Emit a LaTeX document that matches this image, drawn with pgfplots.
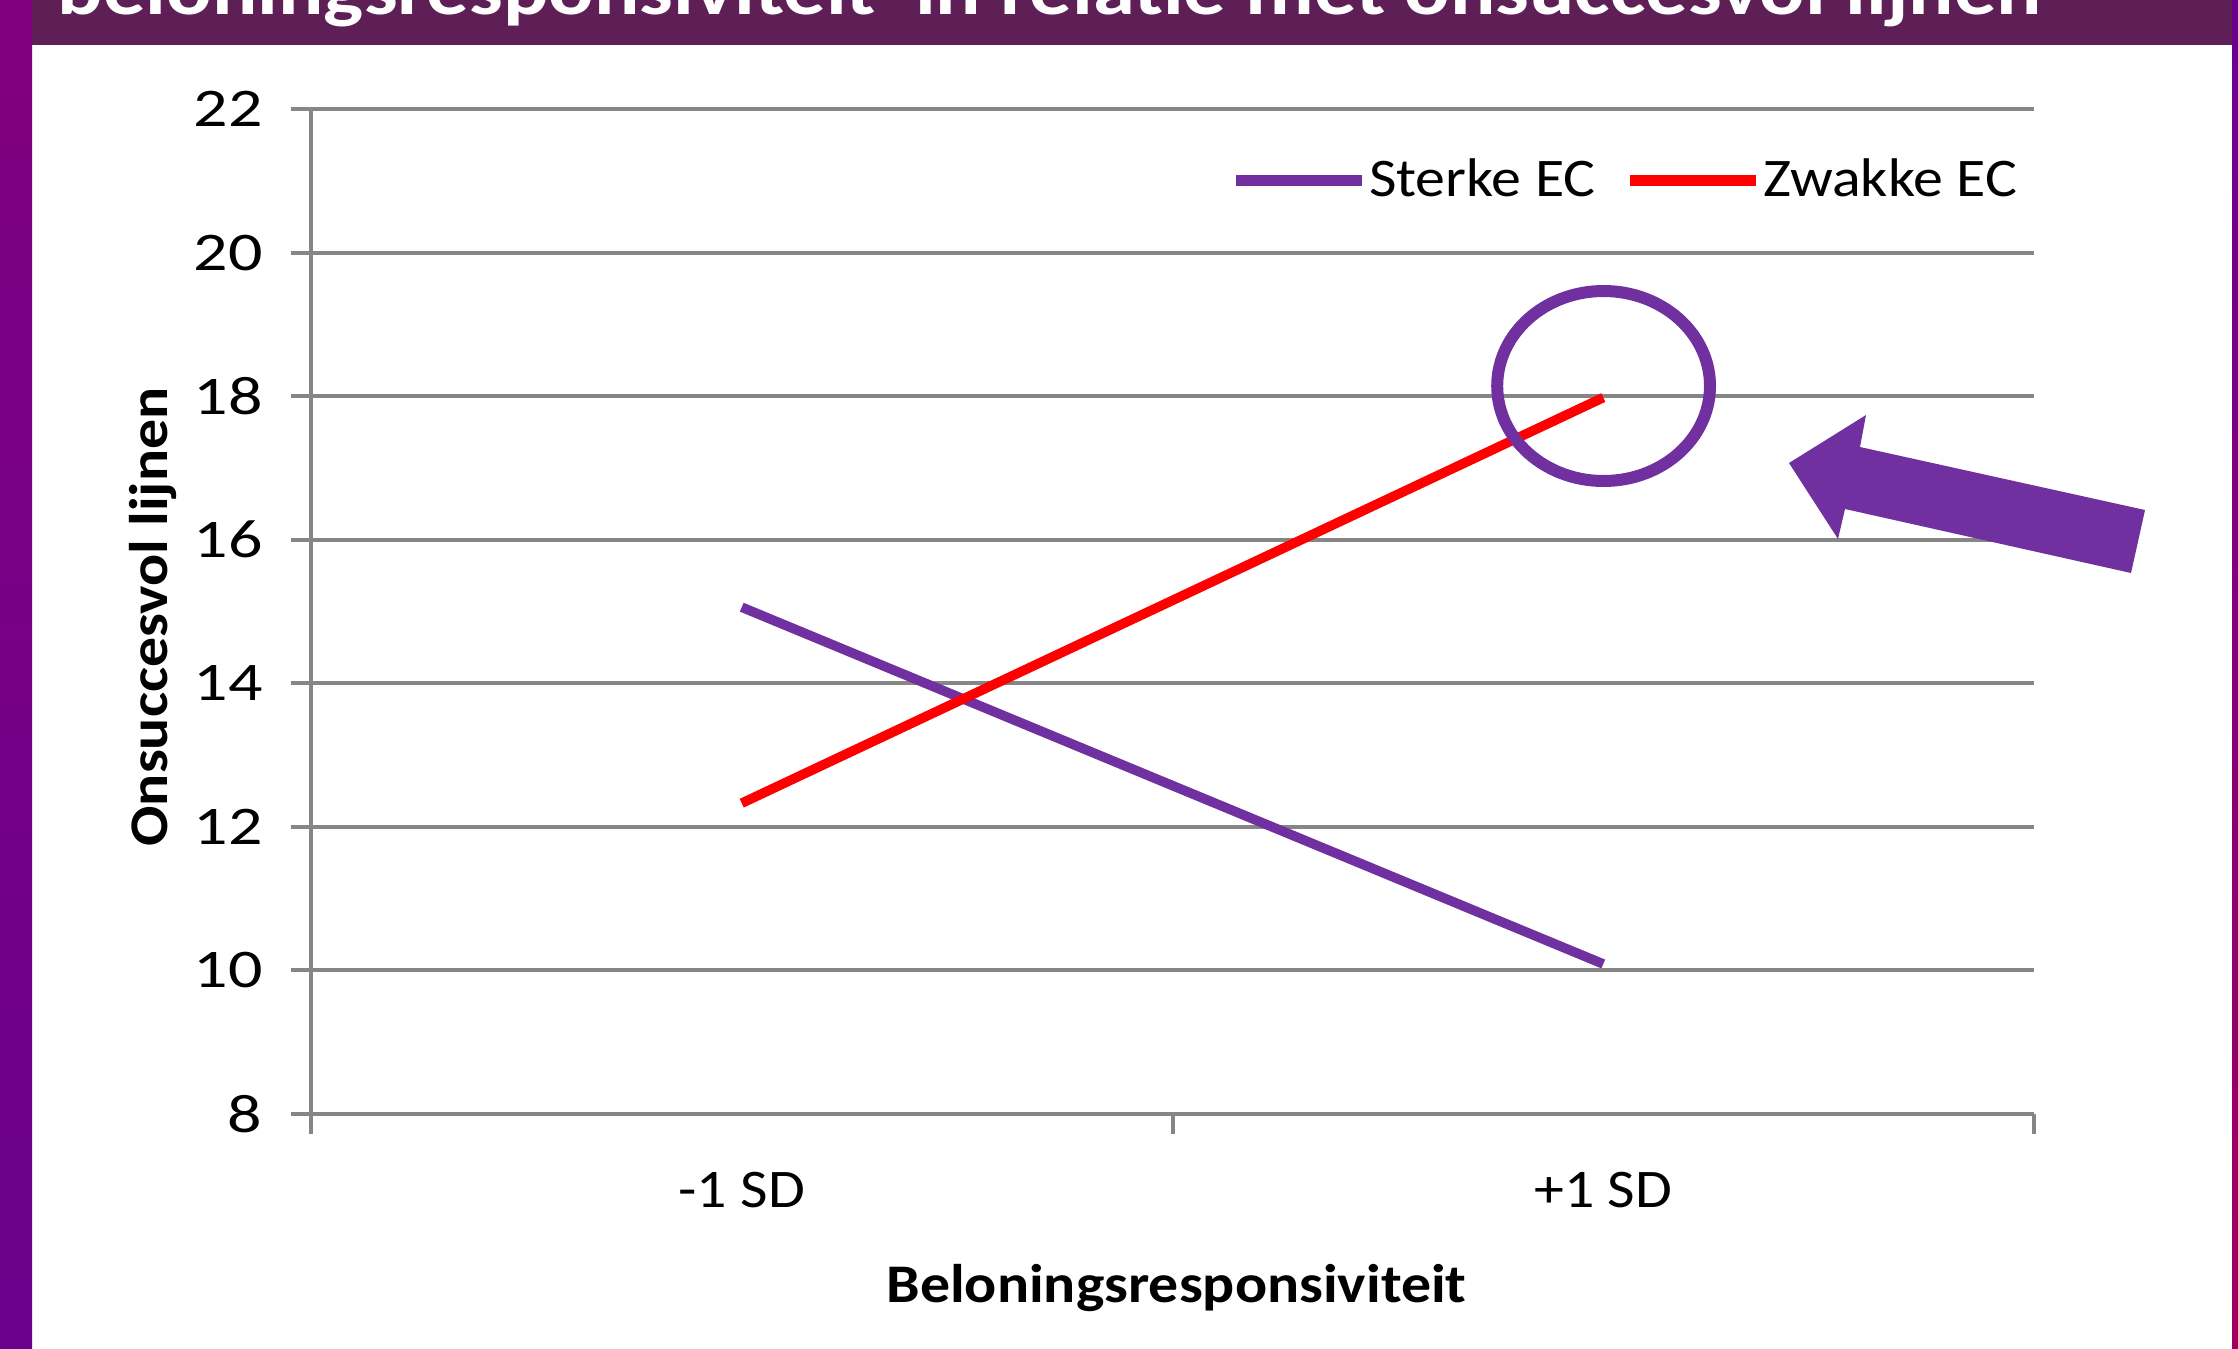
\documentclass[border=0pt]{standalone}
\usepackage{fontspec}
\setmainfont{Carlito}[FakeStretch=1.1]
\newfontfamily\titlefont{Carlito}[FakeStretch=1.15]
\newfontfamily\ytickfont{Carlito}[FakeStretch=1.25]
\usepackage{pgfplots}
\pgfplotsset{compat=1.18}
\definecolor{gridgray}{HTML}{868686}
\definecolor{ecpurple}{HTML}{7030A0}
\definecolor{bandcol}{HTML}{5E1F56}
\definecolor{leftA}{HTML}{800080}
\definecolor{leftB}{HTML}{6A008C}
\definecolor{rightA}{HTML}{6A0090}
\definecolor{rightB}{HTML}{A0005E}
\begin{document}
\begin{tikzpicture}
\useasboundingbox (0pt,0pt) rectangle (559.5pt,-337.25pt);
\clip (0pt,0pt) rectangle (559.5pt,-337.25pt);
\fill[white] (0pt,0pt) rectangle (559.5pt,-337.25pt);
\shade[top color=leftA,bottom color=leftB] (0pt,0pt) rectangle (8pt,-337.25pt);
\shade[top color=rightA,bottom color=rightB] (558pt,0pt) rectangle (559.5pt,-337.25pt);
\fill[bandcol] (8pt,0pt) rectangle (558pt,-11.25pt);
\node[anchor=base west, inner sep=0pt, text=white, font=\titlefont\fontsize{18.4}{20}\selectfont\bfseries] at (14.25pt,-3.5pt) {beloningsresponsiviteit' in relatie met onsuccesvol lijnen};
\begin{axis}[
  at={(77.75pt,-278.5pt)}, anchor=south west,
  scale only axis, width=430.75pt, height=251.25pt,
  xmin=0, xmax=2, ymin=8, ymax=22,
  axis lines*=left,
  axis line style={gridgray, line width=1pt},
  every tick/.style={gridgray, line width=1pt},
  tick align=outside, major tick length=5pt,
  ytick={8,10,...,22},
  ymajorgrids, major grid style={gridgray, line width=1pt},
  xtick={0,1,2}, xticklabels={,,},
  extra x ticks={0.5,1.5}, extra x tick labels={-1 SD,+1 SD},
  extra x tick style={major tick length=0pt},
  /pgf/number format/assume math mode=true,
  font=\fontsize{13.6}{16}\selectfont,
  ticklabel style={font=\fontsize{13.6}{16}\selectfont},
  yticklabel style={font=\ytickfont\fontsize{13.6}{16}\selectfont, xshift=-3.6pt},
  xticklabel style={yshift=-11pt},
  xlabel={\bfseries Beloningsresponsiviteit},
  ylabel={\bfseries Onsuccesvol lijnen},
  xlabel style={at={(axis description cs:0.5023,-0.1871)}, anchor=base},
  ylabel style={at={(axis description cs:-0.0917,0.4945)}, anchor=center},
  legend columns=2,
  legend style={at={(axis description cs:0.9913,0.9286)}, anchor=east, draw=none, fill=none, inner sep=0pt,
    font=\fontsize{13.6}{16}\selectfont, nodes={inner sep=0.3pt},
    /tikz/every even column/.append style={column sep=7pt}},
  legend image code/.code={\draw[#1, line width=2.8pt] (0pt,0pt) -- (31.5pt,0pt);},
]
\addplot[ecpurple, line width=2.4pt] coordinates {(0.5,15.06) (1.5,10.09)};
\addlegendentry{Sterke EC}
\addplot[red, line width=2.4pt] coordinates {(0.5,12.33) (1.5,17.98)};
\addlegendentry{Zwakke EC}
\end{axis}
\draw[ecpurple, line width=3pt] (400.9pt,-96.5pt) ellipse [x radius=26.6pt, y radius=23.75pt];
\fill[ecpurple] (447.25pt,-115.75pt) -- (466.5pt,-103.75pt) -- (465pt,-111.75pt) -- (536.25pt,-127.5pt) -- (532.75pt,-143.25pt) -- (461.25pt,-127.25pt) -- (459.5pt,-134.75pt) -- cycle;
\end{tikzpicture}
\end{document}
